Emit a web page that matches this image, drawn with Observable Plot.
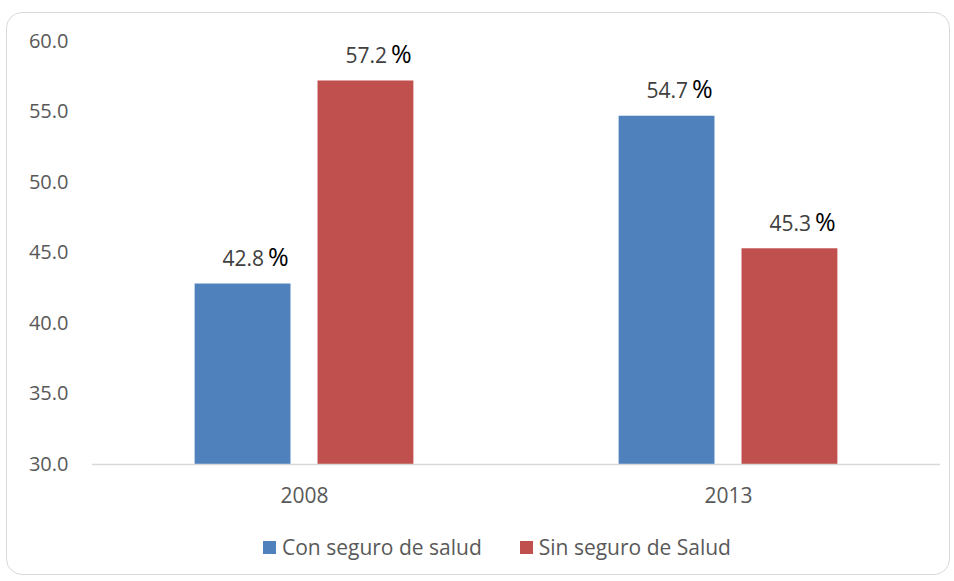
<!DOCTYPE html>
<html>
<head>
<meta charset="utf-8">
<script src="https://cdn.jsdelivr.net/npm/d3@7"></script>
<script src="https://cdn.jsdelivr.net/npm/@observablehq/plot@0.6"></script>
<style>
  html, body { margin: 0; padding: 0; background: #ffffff; }
  #wrap { position: relative; width: 954px; height: 581px; overflow: hidden; font-family: "Open Sans", sans-serif; }
  #box { position: absolute; left: 6px; top: 12px; width: 942px; height: 561px; border: 1.5px solid #d9d9d9; border-radius: 16px; background: #fff; }
  #chart { position: absolute; left: 0; top: 0; }
  #legend { position: absolute; left: 263px; top: 533px; display: flex; align-items: center; font-size: 21px; color: #595959; }
  #legend .item { display: flex; align-items: center; margin-right: 38px; }
  #legend .sw { width: 13px; height: 13px; margin-right: 6px; }
</style>
</head>
<body>
<div id="wrap">
  <div id="box"></div>
  <div id="chart"></div>
  <div id="legend"></div>
</div>
<script>
const years = ["2008", "2013"];
const series = ["Con seguro de salud", "Sin seguro de Salud"];
const conSeguro = [42.8, 54.7];
const sinSeguro = [57.2, 45.3];
const colors = ["#4F81BD", "#C0504D"];
const yTicks = [30, 35, 40, 45, 50, 55, 60];

const data = [];
years.forEach((y, i) => {
  data.push({year: y, series: series[0], value: conSeguro[i]});
  data.push({year: y, series: series[1], value: sinSeguro[i]});
});

const chart = Plot.plot({
  width: 954,
  height: 520,
  marginTop: 41,
  marginBottom: 56,
  marginLeft: 91,
  marginRight: 14,
  style: {fontFamily: "'Open Sans', sans-serif", background: "transparent"},
  fx: {domain: years, padding: 0, label: null},
  x: {domain: series, paddingInner: 0.22, paddingOuter: 0.835, axis: null, round: false},
  y: {domain: [30, 60], clamp: true, label: null},
  color: {domain: series, range: colors},
  marks: [
    Plot.axisY({ticks: yTicks, tickSize: 0, tickPadding: 24, fontSize: 20, color: "#595959", tickFormat: d => d.toFixed(1), label: null}),
    Plot.axisFx({anchor: "bottom", tickSize: 0, tickPadding: 24, fontSize: 21, color: "#595959", label: null}),
    Plot.barY(data, {fx: "year", x: "series", y: "value", fill: "series"}),
    Plot.ruleY([30], {stroke: "#d9d9d9", strokeWidth: 1.5}),
    Plot.text(data, {fx: "year", x: "series", y: "value", text: d => d.value.toFixed(1), textAnchor: "end", lineAnchor: "middle", dx: 21, dy: -25, fontSize: 21, fill: "#404040"}),
    Plot.text(data, {fx: "year", x: "series", y: "value", text: d => "%", textAnchor: "start", lineAnchor: "middle", dx: 25, dy: -26, fontSize: 25, fill: "#000000"})
  ]
});
document.getElementById("chart").appendChild(chart);

const legend = document.getElementById("legend");
series.forEach((s, i) => {
  const item = document.createElement("div");
  item.className = "item";
  const sw = document.createElement("div");
  sw.className = "sw";
  sw.style.background = colors[i];
  const label = document.createElement("span");
  label.textContent = s;
  item.appendChild(sw);
  item.appendChild(label);
  legend.appendChild(item);
});
</script>
</body>
</html>
